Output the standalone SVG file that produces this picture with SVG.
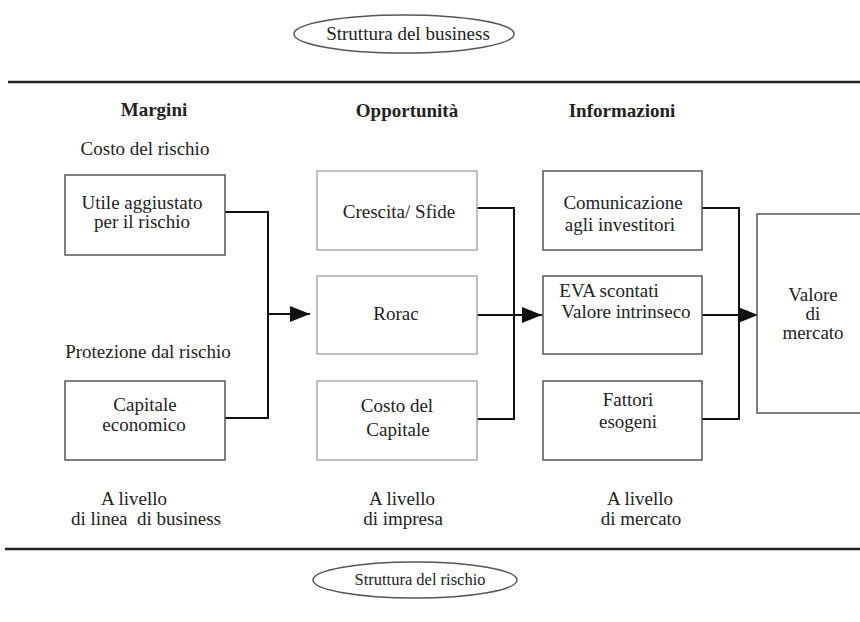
<svg xmlns="http://www.w3.org/2000/svg" width="860" height="622" viewBox="0 0 860 622">
<style>
text{font-family:'Liberation Serif','DejaVu Serif','Times New Roman',serif;font-size:19px;fill:#222;text-anchor:middle;white-space:pre}
.h{font-weight:bold}
.dark{fill:#fff;stroke:#555;stroke-width:1.5}
.light{fill:#fff;stroke:#aaa;stroke-width:1.5}
.conn{fill:none;stroke:#111;stroke-width:2}
.rule{stroke:#222;stroke-width:2.5}
.ell{fill:#fff;stroke:#555;stroke-width:1.5}
</style>
<defs>
<marker id="ah" markerUnits="userSpaceOnUse" markerWidth="20" markerHeight="16" refX="20" refY="8" orient="auto">
<path d="M0,0 L20,8 L0,16 z" fill="#111"/>
</marker>
</defs>
<rect width="860" height="622" fill="#fff"/>
<line class="rule" x1="8" y1="82" x2="860" y2="82"/>
<line class="rule" x1="5" y1="549" x2="860" y2="549"/>
<g id="top-ellipse">
<ellipse class="ell" cx="404" cy="34" rx="110" ry="19"/>
<text x="408" y="40">Struttura del business</text>
</g>
<g id="bottom-ellipse">
<ellipse class="ell" cx="415" cy="580" rx="102" ry="18"/>
<text x="420" y="585" style="font-size:16.5px">Struttura del rischio</text>
</g>
<g id="labels">
<text class="h" x="154" y="116">Margini</text>
<text class="h" x="407" y="117">Opportunità</text>
<text class="h" x="622" y="117">Informazioni</text>
<text x="145" y="155">Costo del rischio</text>
<text x="148" y="358">Protezione dal rischio</text>
<text x="134" y="505">A livello</text>
<text x="146" y="525">di linea  di business</text>
<text x="402" y="505">A livello</text>
<text x="403" y="525">di impresa</text>
<text x="640" y="505">A livello</text>
<text x="641" y="525">di mercato</text>
</g>
<g id="connectors">
<path class="conn" d="M225,212 H268 V418 H225"/>
<path class="conn" d="M268,314 H310" marker-end="url(#ah)"/>
<path class="conn" d="M477,208 H514 V419 H477"/>
<path class="conn" d="M477,315 H542" marker-end="url(#ah)"/>
<path class="conn" d="M702,208 H739 V419 H702"/>
<path class="conn" d="M702,315 H758" marker-end="url(#ah)"/>
</g>
<g id="utile">
<rect class="dark" x="65" y="175" width="160" height="80"/>
<text x="142" y="209">Utile aggiustato</text>
<text x="142" y="228">per il rischio</text>
</g>
<g id="capitale-economico">
<rect class="dark" x="65" y="381" width="160" height="79"/>
<text x="145" y="411">Capitale</text>
<text x="144" y="431">economico</text>
</g>
<g id="crescita">
<rect class="light" x="317" y="171" width="160" height="79"/>
<text x="399" y="218">Crescita/ Sfide</text>
</g>
<g id="rorac">
<rect class="light" x="317" y="276" width="160" height="78"/>
<text x="396" y="320">Rorac</text>
</g>
<g id="costo-capitale">
<rect class="light" x="317" y="381" width="160" height="79"/>
<text x="397" y="412">Costo del</text>
<text x="398" y="436">Capitale</text>
</g>
<g id="comunicazione">
<rect class="dark" x="543" y="171" width="159" height="79"/>
<text x="623" y="209">Comunicazione</text>
<text x="620" y="231">agli investitori</text>
</g>
<g id="eva">
<rect class="dark" x="543" y="276" width="159" height="78"/>
<text x="609" y="297">EVA scontati</text>
<text x="626" y="318">Valore intrinseco</text>
</g>
<g id="fattori">
<rect class="dark" x="543" y="381" width="159" height="79"/>
<text x="628" y="406">Fattori</text>
<text x="628" y="428">esogeni</text>
</g>
<g id="valore-mercato">
<rect class="dark" x="757" y="214" width="110" height="199"/>
<text x="813" y="301">Valore</text>
<text x="813" y="320">di</text>
<text x="813" y="339">mercato</text>
</g>
</svg>
